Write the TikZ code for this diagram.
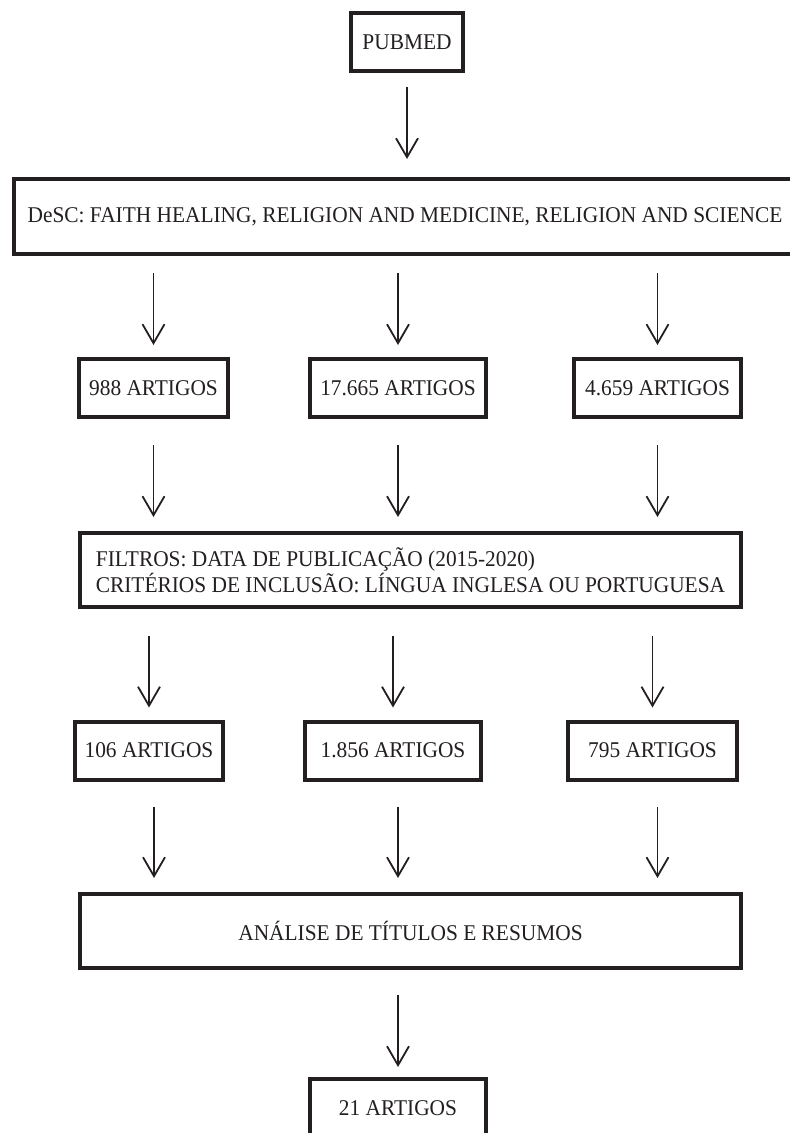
\documentclass[tikz,border=0pt]{standalone}
\usepackage{fontspec}
\setmainfont[FakeStretch=0.95]{Liberation Serif}
\usepackage{xcolor}
\usepackage{tikz}
\usetikzlibrary{arrows.meta,positioning,calc}
\definecolor{flowink}{HTML}{231F20}
\tikzstyle{box} = [rectangle, draw=flowink, line width=4pt, fill=white, text=flowink,
    inner sep=0pt, minimum height=58pt, align=center, font=\fontsize{22.5pt}{26pt}\selectfont]
\tikzstyle{widebox} = [box, minimum width=661pt, minimum height=74pt]
\tikzstyle{arrow} = [-{Straight Barb[length=19pt,width=22pt]}, line width=1.8pt, flowink]

\begin{document}
\begin{tikzpicture}[x=1pt, y=-1pt]
\useasboundingbox (0,0) rectangle (790,1133);
\node[box, minimum width=112pt] (pubmed) at (407,42) {PUBMED};
\node[box, minimum width=782pt, minimum height=75pt] (descritores) at (405,216.5) {DeSC: FAITH HEALING, RELIGION AND MEDICINE, RELIGION AND SCIENCE};
\node[box, minimum width=149pt] (res1) at (153.5,388) {988 ARTIGOS};
\node[box, minimum width=176pt] (res2) at (398,388) {17.665 ARTIGOS};
\node[box, minimum width=167pt] (res3) at (657.5,388) {4.659 ARTIGOS};
\node[widebox, align=left] (filtros) at (410.5,570) {FILTROS: DATA DE PUBLICAÇÃO (2015-2020)\\CRITÉRIOS DE INCLUSÃO: LÍNGUA INGLESA OU PORTUGUESA};
\node[box, minimum width=148pt] (sel1) at (149,750.5) {106 ARTIGOS};
\node[box, minimum width=176pt] (sel2) at (393,750.5) {1.856 ARTIGOS};
\node[box, minimum width=169pt] (sel3) at (652.5,750.5) {795 ARTIGOS};
\node[widebox] (analise) at (410.5,931) {ANÁLISE DE TÍTULOS E RESUMOS};
\node[box, minimum width=176pt] (final) at (398,1108) {21 ARTIGOS};

\draw[arrow, shorten <=14pt, shorten >=18pt] (pubmed) -- (pubmed |- descritores.north);
\draw[arrow, shorten <=17pt, shorten >=12pt] (res1 |- descritores.south) -- (res1);
\draw[arrow, shorten <=17pt, shorten >=12pt] (res2 |- descritores.south) -- (res2);
\draw[arrow, shorten <=17pt, shorten >=12pt] (res3 |- descritores.south) -- (res3);
\draw[arrow, shorten <=26pt, shorten >=14pt] (res1) -- (res1 |- filtros.north);
\draw[arrow, shorten <=26pt, shorten >=14pt] (res2) -- (res2 |- filtros.north);
\draw[arrow, shorten <=26pt, shorten >=14pt] (res3) -- (res3 |- filtros.north);
\draw[arrow, shorten <=27pt, shorten >=12pt] (sel1 |- filtros.south) -- (sel1);
\draw[arrow, shorten <=27pt, shorten >=12pt] (sel2 |- filtros.south) -- (sel2);
\draw[arrow, shorten <=27pt, shorten >=12pt] (sel3 |- filtros.south) -- (sel3);
\draw[arrow, shorten <=25pt, shorten >=14pt] ([xshift=5pt]sel1.south) -- ([xshift=5pt]sel1.south |- analise.north);
\draw[arrow, shorten <=25pt, shorten >=14pt] ([xshift=5pt]sel2.south) -- ([xshift=5pt]sel2.south |- analise.north);
\draw[arrow, shorten <=25pt, shorten >=14pt] ([xshift=5pt]sel3.south) -- ([xshift=5pt]sel3.south |- analise.north);
\draw[arrow, shorten <=25pt, shorten >=10pt] (final |- analise.south) -- (final);
\end{tikzpicture}
\end{document}
